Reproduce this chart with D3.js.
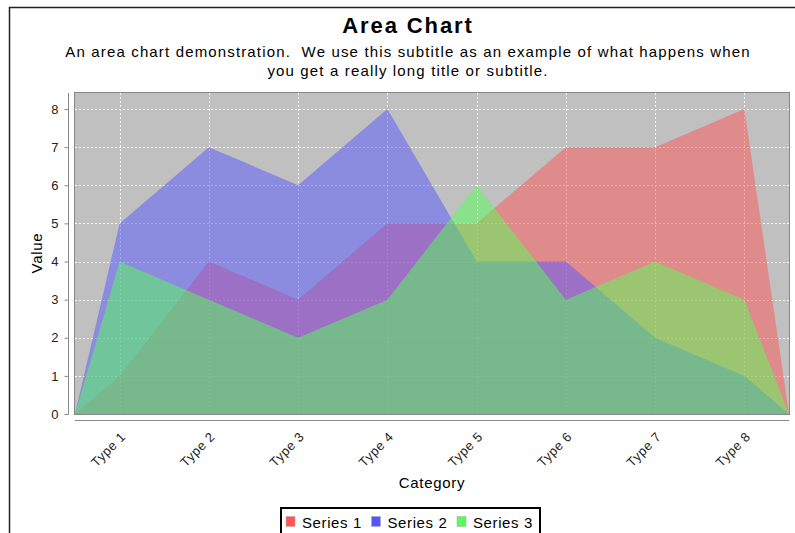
<!DOCTYPE html>
<html>
<head>
<meta charset="utf-8">
<script src="https://cdn.jsdelivr.net/npm/d3@7"></script>
<style>
  html, body { margin: 0; padding: 0; background: #fff; }
  svg { display: block; font-family: "Liberation Sans", Arial, sans-serif; }
</style>
</head>
<body>
<svg id="chart" width="795" height="533"></svg>
<script>
// Categories and series values
const categories = ["Type 1", "Type 2", "Type 3", "Type 4", "Type 5", "Type 6", "Type 7", "Type 8"];
const series1 = [1, 4, 3, 5, 5, 7, 7, 8];
const series2 = [5, 7, 6, 8, 4, 4, 2, 1];
const series3 = [4, 3, 2, 3, 6, 3, 4, 3];
const seriesNames = ["Series 1", "Series 2", "Series 3"];
const seriesColors = ["#FF5555", "#5555FF", "#55FF55"];
const yTicks = [0, 1, 2, 3, 4, 5, 6, 7, 8];

const allSeries = [series1, series2, series3];

const svg = d3.select("#chart");

// Outer chart border
svg.append("path")
  .attr("d", "M9.5,540 V7.5 H800")
  .attr("fill", "none").attr("stroke", "#222").attr("stroke-width", 1.5);

const plot = { left: 75, right: 789, top: 93, bottom: 414 };

const x = d3.scaleBand().domain(categories).range([plot.left, plot.right]).padding(0);
const y = d3.scaleLinear().domain([0, 8.42]).range([plot.bottom, plot.top]);
const cx = c => x(c) + x.bandwidth() / 2;

// Title and subtitle
const midX = 408;
svg.append("text").attr("x", midX).attr("y", 33).attr("text-anchor", "middle")
  .attr("font-size", 22).attr("font-weight", "bold").attr("letter-spacing", 1.9)
  .attr("fill", "#000").text("Area Chart");
svg.append("text").attr("x", midX).attr("y", 57).attr("text-anchor", "middle")
  .attr("font-size", 15).attr("letter-spacing", 1.15).attr("fill", "#000")
  .attr("xml:space", "preserve")
  .text("An area chart demonstration.  We use this subtitle as an example of what happens when");
svg.append("text").attr("x", midX).attr("y", 76).attr("text-anchor", "middle")
  .attr("font-size", 15).attr("letter-spacing", 1.15).attr("fill", "#000")
  .text("you get a really long title or subtitle.");

// Plot background
svg.append("rect")
  .attr("x", plot.left).attr("y", plot.top)
  .attr("width", plot.right - plot.left).attr("height", plot.bottom - plot.top)
  .attr("fill", "#C0C0C0");

// Gridlines
const grid = svg.append("g").attr("stroke", "#fff").attr("stroke-width", 1)
  .attr("stroke-dasharray", "2,2").attr("opacity", 0.9);
yTicks.forEach(t => {
  grid.append("line").attr("x1", plot.left).attr("x2", plot.right)
    .attr("y1", Math.round(y(t)) + 0.5).attr("y2", Math.round(y(t)) + 0.5);
});
categories.forEach(c => {
  grid.append("line").attr("y1", plot.top).attr("y2", plot.bottom)
    .attr("x1", Math.round(cx(c)) + 0.5).attr("x2", Math.round(cx(c)) + 0.5);
});

// Areas: start at the left edge at zero, pass through each category centre, end at the right edge at zero
const area = d3.area()
  .x(d => d.x)
  .y0(y(0))
  .y1(d => y(d.v));

allSeries.forEach((vals, i) => {
  const pts = [{ x: plot.left, v: 0 }]
    .concat(vals.map((v, j) => ({ x: cx(categories[j]), v })))
    .concat([{ x: plot.right, v: 0 }]);
  svg.append("path").datum(pts)
    .attr("d", area)
    .attr("fill", seriesColors[i])
    .attr("fill-opacity", 0.5);
});

// Plot outline
svg.append("rect")
  .attr("x", plot.left - 0.5).attr("y", plot.top - 0.5)
  .attr("width", plot.right - plot.left + 1).attr("height", plot.bottom - plot.top + 1)
  .attr("fill", "none").attr("stroke", "#888").attr("stroke-width", 1);

// Y axis
const yAxis = d3.axisLeft(y).tickValues(yTicks).tickSize(4).tickPadding(6).tickFormat(d3.format("d"));
const gy = svg.append("g").attr("transform", `translate(68.5,0)`).call(yAxis);
gy.select(".domain").attr("stroke", "#888").attr("d", `M-0,${plot.bottom + 0.5}V${plot.top}`);
gy.selectAll(".tick line").attr("stroke", "#888");
gy.selectAll(".tick text").attr("font-size", 13).attr("fill", "#222")
  .attr("font-family", "Liberation Sans, Arial, sans-serif");

// X axis
const xAxis = d3.axisBottom(x).tickSize(0).tickPadding(0);
const gx = svg.append("g").attr("transform", `translate(0,420.5)`).call(xAxis);
gx.select(".domain").attr("stroke", "#888").attr("d", `M${plot.left},0H${plot.right}`);
gx.selectAll(".tick text")
  .attr("font-size", 13).attr("letter-spacing", 0.6).attr("fill", "#222")
  .attr("font-family", "Liberation Sans, Arial, sans-serif")
  .attr("text-anchor", "end")
  .attr("dy", 0)
  .attr("transform", "translate(7,17) rotate(-45)");

// Axis titles
svg.append("text").attr("transform", "translate(42,253) rotate(-90)")
  .attr("text-anchor", "middle").attr("font-size", 15).attr("letter-spacing", 0.7)
  .attr("fill", "#000").text("Value");
svg.append("text").attr("x", 432).attr("y", 488)
  .attr("text-anchor", "middle").attr("font-size", 15).attr("letter-spacing", 0.7)
  .attr("fill", "#000").text("Category");

// Legend
const legend = svg.append("g");
legend.append("rect").attr("x", 281).attr("y", 508).attr("width", 259).attr("height", 40)
  .attr("fill", "#fff").attr("stroke", "#000").attr("stroke-width", 2);
seriesNames.forEach((name, i) => {
  const lx = 286 + i * 85.5;
  legend.append("rect").attr("x", lx).attr("y", 516.5).attr("width", 9).attr("height", 10)
    .attr("fill", seriesColors[i]).attr("stroke", "#aaa").attr("stroke-width", 0.5);
  legend.append("text").attr("x", lx + 16).attr("y", 528)
    .attr("font-size", 15).attr("letter-spacing", 0.6).attr("fill", "#000").text(name);
});
</script>
</body>
</html>
